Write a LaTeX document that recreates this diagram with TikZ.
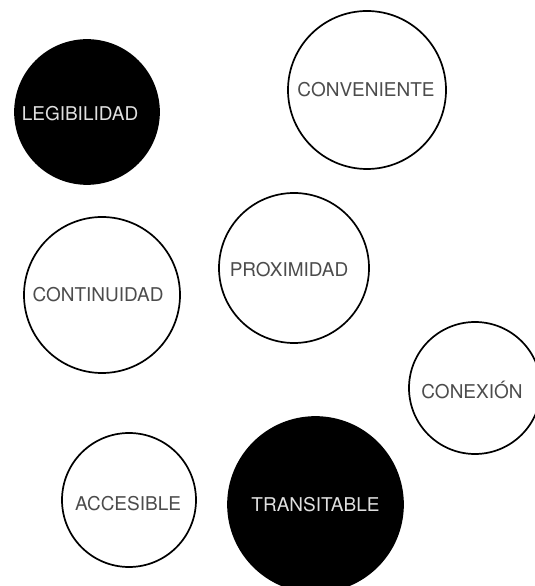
\documentclass[tikz,border=0pt]{standalone}
\usepackage{fontspec}
\setmainfont{TeX Gyre Heros}
\usepackage{tikz}
\usetikzlibrary{positioning}

\begin{document}
\begin{tikzpicture}[
  x=1pt, y=1pt,
  font=\fontsize{19}{19}\selectfont,
  ring/.style={circle,draw=black,line width=1.7pt,fill=white,inner sep=0pt},
  dot/.style={circle,draw=black,line width=1.7pt,fill=black,inner sep=0pt},
  txtlight/.style={text=black!70},
  txtdark/.style={text=black!12}
]
\useasboundingbox (0,0) rectangle (535,586);

\node[dot, minimum size=144pt, label={[txtdark,xshift=-7pt,yshift=-2pt]center:LEGIBILIDAD}] (legibilidad) at (87,474) {};
\node[ring, minimum size=158pt, label={[txtlight,xshift=-1pt]center:CONVENIENTE}] (conveniente) at (367,496) {};
\node[ring, minimum size=150pt, label={[txtlight,xshift=-5pt,yshift=-2pt]center:PROXIMIDAD}] (proximidad) at (294,318) {};
\node[ring, minimum size=156pt, label={[txtlight,xshift=-4pt]center:CONTINUIDAD}] (continuidad) at (102,291) {};
\node[ring, minimum size=132pt, label={[txtlight,xshift=-3pt,yshift=-2pt]center:CONEXIÓN}] (conexion) at (475,198) {};
\node[ring, minimum size=134pt, label={[txtlight,xshift=-1pt,yshift=-4pt]center:ACCESIBLE}] (accesible) at (129,86) {};
\node[dot, minimum size=175pt, label={[txtdark]center:TRANSITABLE}] (transitable) at (315.5,81.5) {};
\end{tikzpicture}
\end{document}
